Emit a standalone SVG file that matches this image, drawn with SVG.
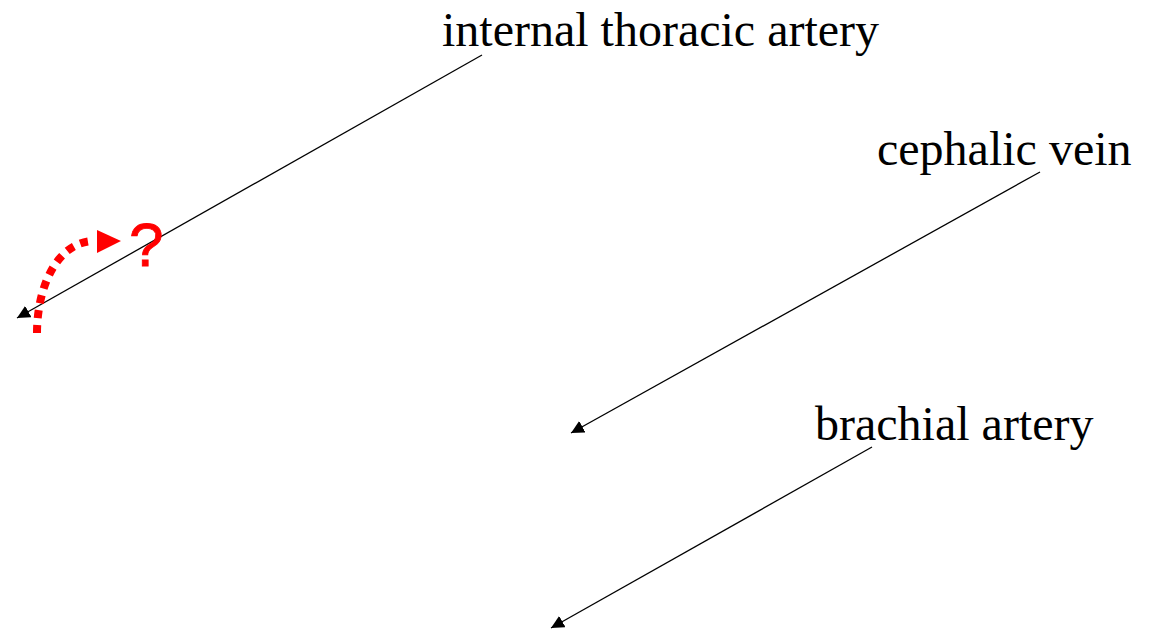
<svg xmlns="http://www.w3.org/2000/svg" width="1151" height="631" viewBox="0 0 1151 631">
<style>
.lbl{font-family:"Liberation Serif","Times New Roman",serif;font-size:48px;fill:#000}
.ln{stroke:#000;stroke-width:1.3;fill:none;marker-end:url(#ah)}
</style>
<defs>
<marker id="ah" viewBox="0 0 10 10" refX="10" refY="5" markerWidth="13" markerHeight="13" markerUnits="userSpaceOnUse" orient="auto">
<path d="M0,0 L10,5 L0,10 z" fill="#000"/>
</marker>
</defs>
<rect width="1151" height="631" fill="#fff"/>
<g id="connectors">
<line class="ln" x1="482" y1="55" x2="17" y2="318"/>
<line class="ln" x1="1040" y1="172" x2="571" y2="433"/>
<line class="ln" x1="872" y1="447" x2="551" y2="628"/>
</g>
<g id="label-ita"><text class="lbl" x="442" y="46">internal thoracic artery</text></g>
<g id="label-cv"><text class="lbl" x="877" y="165">cephalic vein</text></g>
<g id="label-ba"><text class="lbl" x="815" y="440">brachial artery</text></g>
<g id="redirect">
<path d="M37,333 C37,290 55,243 93,241" fill="none" stroke="#f00" stroke-width="8" stroke-dasharray="8 7"/>
<polygon points="97,230 121,241 97,253" fill="#f00"/>
<text x="129" y="266" font-family="Liberation Sans,Arial,sans-serif" font-size="62" fill="#f00" stroke="#f00" stroke-width="0.8">?</text>
</g>
</svg>
